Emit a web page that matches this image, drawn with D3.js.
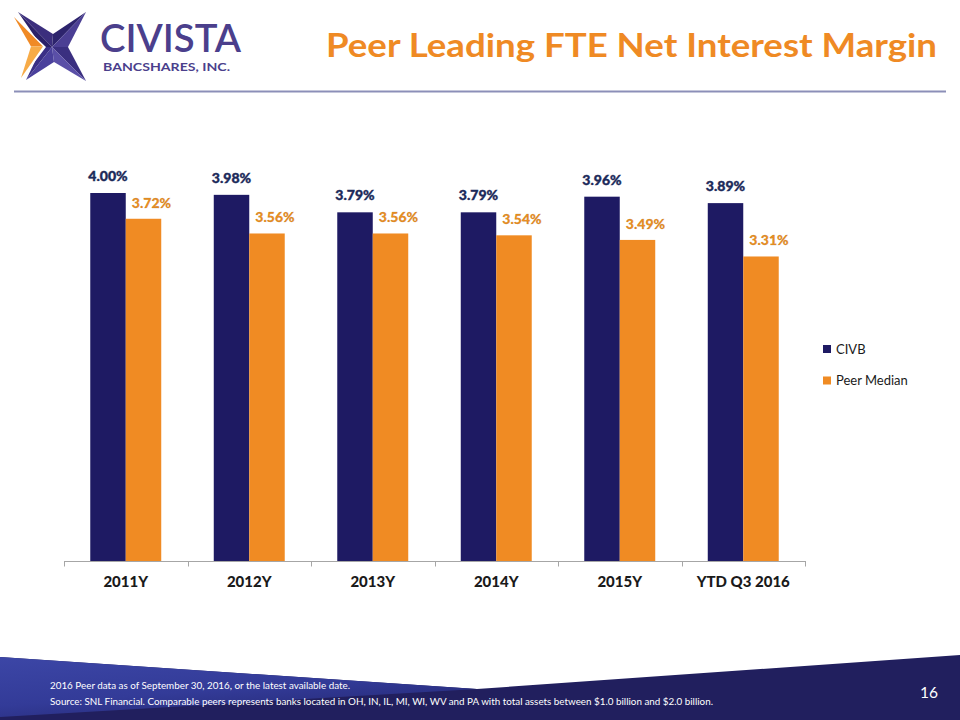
<!DOCTYPE html>
<html>
<head>
<meta charset="utf-8">
<script src="https://cdn.jsdelivr.net/npm/d3@7"></script>
<style>
  html, body { margin: 0; padding: 0; background: #fff; }
  svg { display: block; }
  text { font-family: Lato, "Open Sans", sans-serif; }
</style>
</head>
<body>
<svg id="chart" width="960" height="720"></svg>
<script>
// ---- data ----
const categories = ["2011Y", "2012Y", "2013Y", "2014Y", "2015Y", "YTD Q3 2016"];
const seriesNames = ["CIVB", "Peer Median"];
const civbValues = [4.00, 3.98, 3.79, 3.79, 3.96, 3.89];
const peerValues = [3.72, 3.56, 3.56, 3.54, 3.49, 3.31];
const titleText = "Peer Leading FTE Net Interest Margin";
const footnotes = [
  "2016 Peer data as of September  30, 2016, or the latest available date.",
  "Source: SNL Financial. Comparable peers represents banks located in OH, IN, IL, MI, WI, WV and PA with total assets between $1.0 billion and $2.0 billion."
];
const pageNumber = "16";

const colors = { "CIVB": "#1e1a63", "Peer Median": "#f08b23" };
const labelColors = { "CIVB": "#1c2a5a", "Peer Median": "#ec8f22" };

const svg = d3.select("#chart");

// ---- footer band ----
const defs = svg.append("defs");
const grad = defs.append("linearGradient").attr("id", "wedge")
  .attr("x1", "0").attr("y1", "0").attr("x2", "0.6").attr("y2", "1");
grad.append("stop").attr("offset", "0").attr("stop-color", "#3c46a6");
grad.append("stop").attr("offset", "0.6").attr("stop-color", "#333b98");
grad.append("stop").attr("offset", "1").attr("stop-color", "#262a78");

svg.append("path").attr("d", "M0,657 L477,689 L960,655 L960,720 L0,720 Z").attr("fill", "#211f5e");
svg.append("path").attr("d", "M0,657 L477,689 L0,717 Z").attr("fill", "url(#wedge)");

const fn = svg.append("g").attr("fill", "#fff").attr("font-size", 10).style("white-space", "pre");
fn.append("text").attr("x", 50).attr("y", 688.5).text(footnotes[0])
  .attr("textLength", 300).attr("lengthAdjust", "spacingAndGlyphs");
fn.append("text").attr("x", 50).attr("y", 705).text(footnotes[1])
  .attr("textLength", 663).attr("lengthAdjust", "spacingAndGlyphs");
svg.append("text").attr("x", 929).attr("y", 698).attr("text-anchor", "middle")
  .attr("fill", "#fff").attr("font-size", 15.5).text(pageNumber);

// ---- header ----
svg.append("line").attr("x1", 14).attr("x2", 946).attr("y1", 91.5).attr("y2", 91.5)
  .attr("stroke", "#8c8fb8").attr("stroke-width", 2);

svg.append("text").attr("x", 326).attr("y", 57).attr("fill", "#ef8a24")
  .attr("font-size", 32.5).attr("font-weight", 700)
  .attr("textLength", 611).attr("lengthAdjust", "spacingAndGlyphs")
  .text(titleText);

// logo star
const logo = svg.append("g");
const C = [52, 47], TL = [18, 12], TR = [86, 12], BR = [86, 81], BL = [26, 80];
const Wt = [53, 34], Wr = [68, 47], Wb = [54, 62], Wl = [42, 47];
const tri = (a, b, c, fill) => logo.append("path").attr("d", `M${a}L${b}L${c}Z`).attr("fill", fill);
tri(TL, Wt, C, "#3b2e7d");
tri(TL, C, Wl, "#2b2068");
tri(TR, Wt, C, "#2d246d");
tri(TR, C, Wr, "#4b3f94");
tri(BR, Wr, C, "#3a2f80");
tri(BR, C, Wb, "#5a4fa7");
tri(BL, Wb, C, "#4a409c");
tri(BL, C, Wl, "#3a2f86");
// white gap + orange chevron
logo.append("path").attr("d", "M12,15 L46,47 L21,80 L29,47 Z").attr("fill", "#fff");
logo.append("path").attr("d", "M14,17 L43,46.5 L31,46.5 Z").attr("fill", "#f08a25");
logo.append("path").attr("d", "M31,46.5 L43,46.5 L21,78 Z").attr("fill", "#f7ab47");

svg.append("text").attr("x", 100).attr("y", 52).attr("fill", "#4b3f8c")
  .attr("font-size", 38).attr("font-weight", 600)
  .attr("textLength", 141).attr("lengthAdjust", "spacingAndGlyphs").text("CIVISTA");
svg.append("text").attr("x", 103).attr("y", 70.5).attr("fill", "#4b3f8c")
  .attr("font-size", 11.5).attr("font-weight", 700)
  .attr("textLength", 127).attr("lengthAdjust", "spacingAndGlyphs").text("BANCSHARES, INC.");

// ---- chart ----
const x = d3.scaleBand().domain(categories).range([64, 805]).paddingInner(0).paddingOuter(0);
const xs = d3.scaleBand().domain(seriesNames).range([0, x.bandwidth()]).paddingInner(0).paddingOuter(0.74);
const y = d3.scaleLinear().domain([0, 4.5]).range([561, 147]);

const rows = categories.map((c, i) => ({ cat: c, vals: [
  { s: "CIVB", v: civbValues[i] }, { s: "Peer Median", v: peerValues[i] } ] }));

const groups = svg.append("g").selectAll("g").data(rows).join("g")
  .attr("transform", d => `translate(${x(d.cat)},0)`);

groups.selectAll("rect").data(d => d.vals).join("rect")
  .attr("x", d => xs(d.s)).attr("width", xs.bandwidth())
  .attr("y", d => y(d.v)).attr("height", d => y(0) - y(d.v))
  .attr("fill", d => colors[d.s]);

groups.selectAll("text.lbl").data(d => d.vals).join("text").attr("class", "lbl")
  .attr("x", d => xs(d.s) + xs.bandwidth() / 2 + (d.s === "CIVB" ? 0 : 8))
  .attr("y", d => y(d.v) - (d.s === "CIVB" ? 12 : 11))
  .attr("text-anchor", "middle")
  .attr("font-size", 14).attr("font-weight", 900)
  .attr("fill", d => labelColors[d.s])
  .attr("stroke", d => d.s === "CIVB" ? labelColors[d.s] : "rgba(150,95,30,0.45)")
  .attr("stroke-width", 0.4)
  .text(d => d.v.toFixed(2) + "%");

// x axis
const xAxis = svg.append("g").attr("transform", `translate(0,${y(0)})`);
xAxis.append("line").attr("x1", 64).attr("x2", 805).attr("y1", 0.5).attr("y2", 0.5)
  .attr("stroke", "#a6a6a6").attr("stroke-width", 1);
const tickPos = categories.map(c => x(c)).concat([x(categories[categories.length - 1]) + x.bandwidth()]);
xAxis.selectAll("line.tick").data(tickPos).join("line").attr("class", "tick")
  .attr("x1", d => Math.round(d) + 0.5).attr("x2", d => Math.round(d) + 0.5)
  .attr("y1", 0).attr("y2", 5.5).attr("stroke", "#a6a6a6");
xAxis.selectAll("text").data(categories).join("text")
  .attr("x", d => x(d) + x.bandwidth() / 2).attr("y", 26)
  .attr("text-anchor", "middle").attr("font-size", 15).attr("font-weight", 900)
  .attr("fill", "#1a1a1a").text(d => d);

// legend
const legend = svg.append("g").attr("transform", "translate(823,344)");
const li = legend.selectAll("g").data(seriesNames).join("g")
  .attr("transform", (d, i) => `translate(0,${i * 31.5})`);
li.append("rect").attr("x", 0).attr("y", 1).attr("width", 8).attr("height", 8).attr("fill", d => colors[d]);
li.append("text").attr("x", 13).attr("y", 9.5).attr("font-size", 13).attr("fill", "#1a1a1a").text(d => d);
</script>
</body>
</html>
